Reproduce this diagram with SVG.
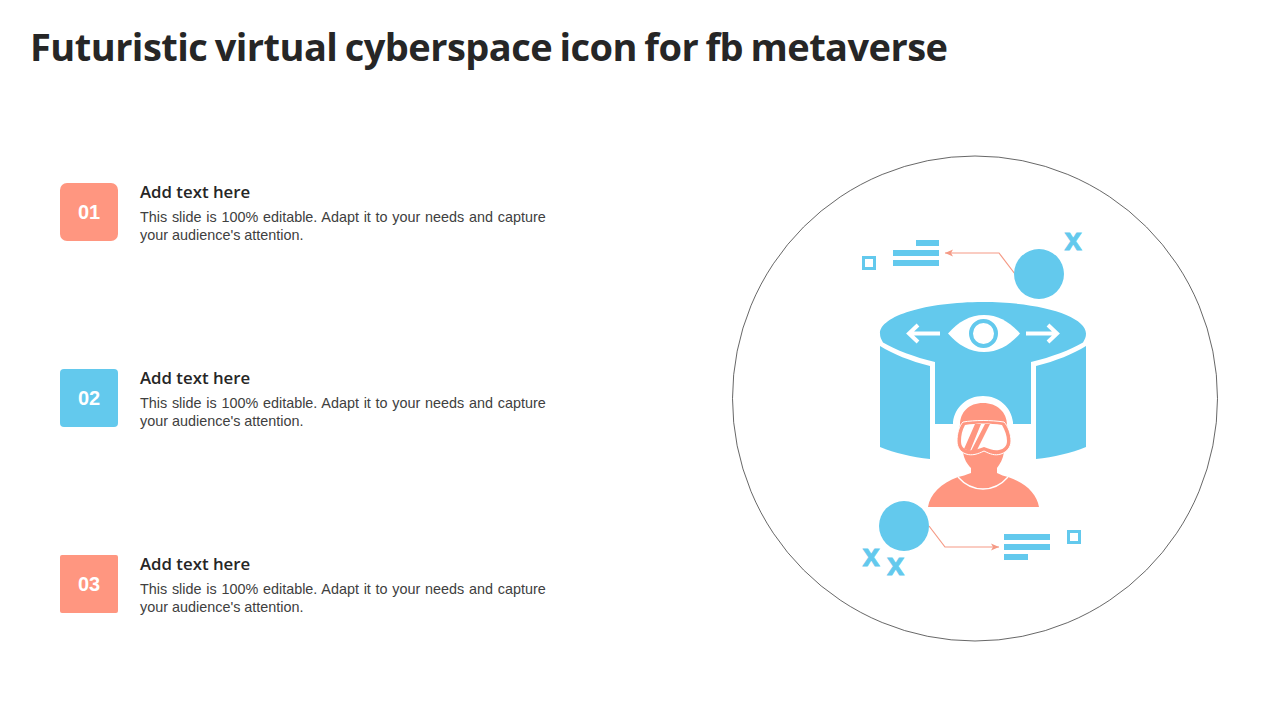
<svg xmlns="http://www.w3.org/2000/svg" width="1280" height="720" viewBox="0 0 1280 720">
<style>
.t{font-family:"Open Sans","Noto Sans",sans-serif;font-weight:700;fill:#262626}
.h{font-family:"Open Sans","Noto Sans",sans-serif;font-weight:600;font-size:16.800px;fill:#262626}
.b{font-family:"Liberation Sans",Arial,sans-serif;font-size:14.400px;fill:#404040}
.n{font-family:"Liberation Sans",Arial,sans-serif;font-weight:700;font-size:20px;fill:#fff;text-anchor:middle}
.x{font-family:"Liberation Sans",Arial,sans-serif;font-weight:700;font-size:31px;fill:#63c9ed;stroke:#63c9ed;stroke-width:0.800;text-anchor:middle}
.blue{fill:#63c9ed}.sal{fill:#ff9680}
.sq{fill:#fff;stroke:#63c9ed;stroke-width:3}
.ar{fill:none;stroke:#fff;stroke-width:4}
.ln{fill:none;stroke:#f59a85;stroke-width:1.200}
</style>
<defs><marker id="a" markerWidth="9" markerHeight="8" refX="8" refY="4" orient="auto" markerUnits="userSpaceOnUse"><path d="M0 0.500L8 4L0 7.500L2 4Z" fill="#f59a85"/></marker></defs>
<rect width="1280" height="720" fill="#fff"/>
<text class="t" x="30" y="61" font-size="38" textLength="918" lengthAdjust="spacing" word-spacing="-2">Futuristic virtual cyberspace icon for fb metaverse</text>

<g id="item1"><rect class="sal" x="60" y="183" width="58" height="58" rx="7"/><text class="n" x="89" y="219">01</text><text class="h" x="140" y="198">Add text here</text><text class="b" x="140" y="222" word-spacing="0.740">This slide is 100% editable. Adapt it to your needs and capture</text><text class="b" x="140" y="240">your audience's attention.</text></g>
<g id="item2"><rect class="blue" x="60" y="369" width="58" height="58" rx="4"/><text class="n" x="89" y="405">02</text><text class="h" x="140" y="384">Add text here</text><text class="b" x="140" y="408" word-spacing="0.740">This slide is 100% editable. Adapt it to your needs and capture</text><text class="b" x="140" y="426">your audience's attention.</text></g>
<g id="item3"><rect class="sal" x="60" y="555" width="58" height="58" rx="2"/><text class="n" x="89" y="591">03</text><text class="h" x="140" y="570">Add text here</text><text class="b" x="140" y="594" word-spacing="0.740">This slide is 100% editable. Adapt it to your needs and capture</text><text class="b" x="140" y="612">your audience's attention.</text></g>

<g id="ring"><circle cx="975" cy="398.500" r="242.500" fill="none" stroke="#404040" stroke-width="0.800"/></g>

<g id="cylinder">
<path class="blue" d="M880 333.500C880 316 926 302 983 302C1040 302 1086 316 1086 333.500C1086 337 1085 339 1083 342.500C1070 350 1052 357 1031 362V424H1013V422C1011 407 999 396 983 396C967 396 955 407 953 422V424H935V362C914 357 896 350 883 342.500C881 339 880 337 880 333.500Z"/>
<path class="blue" d="M880 346C893 354 910 361 930 366V459C912 457 895 453 880 447Z"/>
<path class="blue" d="M1086 346C1073 354 1056 361 1036 366V459C1054 457 1071 453 1086 447Z"/>
<path d="M948 333.500C958 322 970 315 984 315C998 315 1010 322 1020 333.500C1010 345 998 352 984 352C970 352 958 345 948 333.500Z" fill="#fff"/>
<circle cx="983.500" cy="333.500" r="12.500" fill="#fff" stroke="#63c9ed" stroke-width="4"/>
<path class="ar" d="M940 333.500H911M918 325L909 333.500L918 342"/>
<path class="ar" d="M1026 333.500H1057M1048 325L1057 333.500L1048 342"/>
</g>

<g id="person">
<path class="sal" d="M983 403C969 403 960 412 960 425C958 432 958 444 963 452C964 459 967 464 971 468V473C966 475 962 476 958 477C941 483 930 494 928 507H1039C1037 494 1026 483 1008 477C1004 476 1001 475 997 473V468C1000 464 1003 459 1004 452C1009 444 1009 432 1007 425C1007 412 997 403 983 403Z"/>
<path d="M958 477C965 485 974 489 983 489C992 489 1001 485 1008 477" fill="none" stroke="#fff" stroke-width="1.300"/>
<path d="M963 422C975 420 991 420 1004 422C1008 426 1011 434 1011 441C1011 447 1007 452 1001 454C995 456 990 454 984 451C978 454 972 456 966 454C960 452 957 447 957 441C957 434 959 426 963 422Z" fill="#ff9680" stroke="#fff" stroke-width="1"/>
<path d="M965 425C977 423 990 423 1002 425C1005 430 1007 436 1007 441C1007 446 1004 449 999 450C994 451 990 449 984 447C978 449 973 451 968 450C963 449 961 446 961 441C961 436 962 430 965 425Z" fill="#fff"/>
<path class="sal" d="M975 424H981L970 451L964 449ZM985 424H990L976 452L971 451Z"/>
</g>

<g id="connectors">
<path class="ln" d="M1015 274L999 253H945" marker-end="url(#a)"/>
<path class="ln" d="M929 526L945 547H999" marker-end="url(#a)"/>
</g>

<g id="top-callout">
<circle class="blue" cx="1039" cy="274" r="25"/>
<rect class="blue" x="916" y="240" width="23" height="6"/><rect class="blue" x="893" y="250" width="46" height="6"/><rect class="blue" x="893" y="260" width="46" height="6"/>
<rect class="sq" x="863.500" y="257.500" width="11" height="11"/>
<text class="x" x="1073" y="250">x</text>
</g>
<g id="bottom-callout">
<circle class="blue" cx="904" cy="526" r="25"/>
<rect class="blue" x="1004" y="534" width="46" height="6"/><rect class="blue" x="1004" y="544" width="46" height="6"/><rect class="blue" x="1004" y="554" width="24" height="6"/>
<rect class="sq" x="1068.500" y="531.500" width="11" height="11"/>
<text class="x" x="871" y="566">x</text><text class="x" x="895.500" y="575">x</text>
</g>
</svg>
